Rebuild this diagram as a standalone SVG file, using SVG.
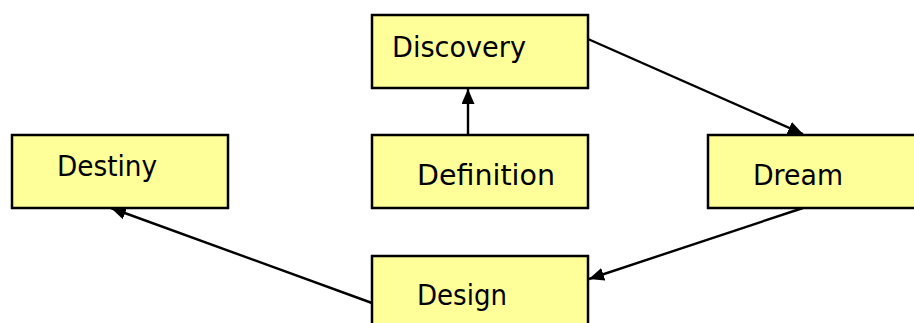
<svg xmlns="http://www.w3.org/2000/svg" width="914" height="323" viewBox="0 0 914 323">
  <style>
    .box { fill: #FFFF99; stroke: #000; stroke-width: 2.5; }
    .lbl { font-family: "DejaVu Sans", "Liberation Sans", sans-serif; font-size: 29px; fill: #000; }
    .edge { stroke: #000; stroke-width: 2.4; fill: none; marker-end: url(#arrow); }
  </style>
  <defs>
    <marker id="arrow" viewBox="0 0 15 13" refX="15" refY="6.5" markerWidth="15" markerHeight="13" markerUnits="userSpaceOnUse" orient="auto">
      <path d="M0,0 L15,6.5 L0,13 Z" fill="#000"/>
    </marker>
  </defs>
  <rect width="914" height="323" fill="#fff"/>

  <g id="connectors">
    <line class="edge" x1="468" y1="135" x2="468" y2="89"/>
    <line class="edge" x1="588" y1="39" x2="803" y2="134"/>
    <line class="edge" x1="803" y1="208" x2="589" y2="279"/>
    <line class="edge" x1="372" y1="303" x2="111" y2="208"/>
  </g>

  <g id="discovery">
    <rect class="box" x="372" y="15" width="216" height="73"/>
    <text class="lbl" x="392" y="57" textLength="134" lengthAdjust="spacingAndGlyphs">Discovery</text>
  </g>
  <g id="destiny">
    <rect class="box" x="12" y="135" width="216" height="73"/>
    <text class="lbl" x="57" y="176" textLength="100" lengthAdjust="spacingAndGlyphs">Destiny</text>
  </g>
  <g id="definition">
    <rect class="box" x="372" y="135" width="216" height="73"/>
    <text class="lbl" x="417" y="185" textLength="138" lengthAdjust="spacingAndGlyphs">Definition</text>
  </g>
  <g id="dream">
    <rect class="box" x="708" y="135" width="216" height="73"/>
    <text class="lbl" x="753" y="185" textLength="90" lengthAdjust="spacingAndGlyphs">Dream</text>
  </g>
  <g id="design">
    <rect class="box" x="372" y="256" width="216" height="73"/>
    <text class="lbl" x="417" y="305" textLength="90" lengthAdjust="spacingAndGlyphs">Design</text>
  </g>
</svg>
